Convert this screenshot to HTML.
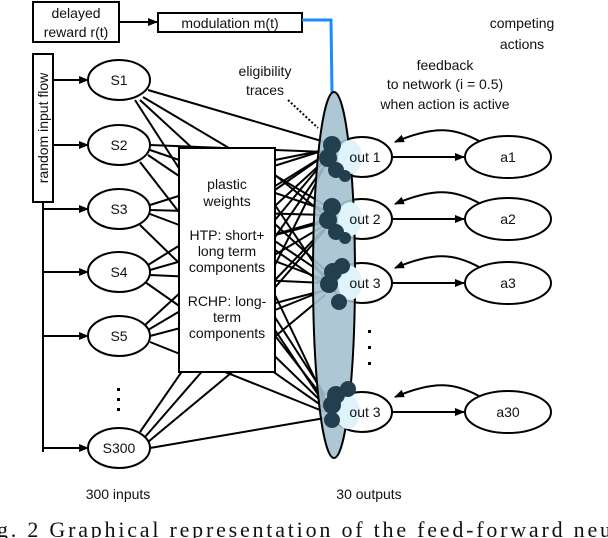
<!DOCTYPE html>
<html><head><style>body{margin:0;background:#fff}svg{display:block}text{font-family:"Liberation Sans",sans-serif;fill:#111}</style></head><body>
<svg width="608" height="538" viewBox="0 0 608 538" xmlns="http://www.w3.org/2000/svg">
<defs><marker id="ar" markerWidth="10" markerHeight="8" refX="9" refY="4" orient="auto" markerUnits="userSpaceOnUse"><path d="M0,0 L10,4 L0,8 z" fill="#000"/></marker></defs>
<g stroke="#000" stroke-width="2" fill="none">
<rect x="33" y="2" width="86" height="40" fill="#fff"/>
<rect x="158" y="13" width="144" height="19" fill="#fff"/>
<line x1="119" y1="22" x2="157" y2="22" marker-end="url(#ar)"/>
<rect x="33" y="54" width="20" height="148" fill="#fff"/>
<polyline points="43,202 43,452"/>
<line x1="53" y1="80" x2="88" y2="80" marker-end="url(#ar)"/>
<line x1="53" y1="145" x2="88" y2="145" marker-end="url(#ar)"/>
<line x1="43" y1="209" x2="88" y2="209" marker-end="url(#ar)"/>
<line x1="43" y1="272" x2="88" y2="272" marker-end="url(#ar)"/>
<line x1="43" y1="336" x2="88" y2="336" marker-end="url(#ar)"/>
<line x1="43" y1="448" x2="88" y2="448" marker-end="url(#ar)"/>
</g>
<polyline points="302,20 331,20 332,93" stroke="#1a8cff" stroke-width="3" fill="none"/>
<g stroke="#000" stroke-width="2">
<line x1="148" y1="90" x2="325" y2="142"/><line x1="143" y1="97" x2="325" y2="205"/><line x1="140" y1="100" x2="325" y2="270"/><line x1="135" y1="100" x2="325" y2="395"/>
<line x1="150" y1="145" x2="325" y2="152"/><line x1="150" y1="150" x2="325" y2="210"/><line x1="148" y1="155" x2="325" y2="275"/><line x1="140" y1="162" x2="325" y2="400"/>
<line x1="150" y1="205" x2="325" y2="150"/><line x1="150" y1="210" x2="325" y2="215"/><line x1="150" y1="214" x2="325" y2="280"/><line x1="140" y1="225" x2="325" y2="405"/>
<line x1="148" y1="265" x2="325" y2="155"/><line x1="150" y1="270" x2="325" y2="220"/><line x1="150" y1="275" x2="325" y2="283"/><line x1="145" y1="282" x2="325" y2="408"/>
<line x1="145" y1="325" x2="325" y2="160"/><line x1="148" y1="330" x2="325" y2="225"/><line x1="150" y1="336" x2="325" y2="290"/><line x1="150" y1="342" x2="325" y2="412"/>
<line x1="140" y1="432" x2="325" y2="165"/><line x1="145" y1="437" x2="325" y2="230"/><line x1="148" y1="442" x2="325" y2="295"/><line x1="150" y1="448" x2="325" y2="418"/>
</g>
<rect x="179" y="148" width="96" height="224" fill="#fff" stroke="#000" stroke-width="2"/>
<g stroke="#000" stroke-width="2">
<line x1="275" y1="160" x2="325" y2="150"/><line x1="275" y1="175" x2="325" y2="215"/><line x1="275" y1="190" x2="325" y2="155"/><line x1="275" y1="205" x2="325" y2="280"/>
<line x1="275" y1="220" x2="325" y2="160"/><line x1="275" y1="235" x2="325" y2="222"/><line x1="275" y1="250" x2="325" y2="285"/><line x1="275" y1="265" x2="325" y2="165"/>
<line x1="275" y1="280" x2="325" y2="228"/><line x1="275" y1="295" x2="325" y2="400"/><line x1="275" y1="310" x2="325" y2="290"/><line x1="275" y1="330" x2="325" y2="405"/>
</g>
<g fill="#fff" stroke="#000" stroke-width="2">
<ellipse cx="119" cy="80" rx="31" ry="20"/><ellipse cx="119" cy="145" rx="31" ry="20"/><ellipse cx="119" cy="209" rx="31" ry="20"/>
<ellipse cx="119" cy="272" rx="31" ry="20"/><ellipse cx="119" cy="336" rx="31" ry="20"/><ellipse cx="119" cy="448" rx="31" ry="20"/>
<ellipse cx="362" cy="157" rx="30" ry="20"/><ellipse cx="362" cy="219" rx="30" ry="20"/><ellipse cx="362" cy="283" rx="30" ry="20"/><ellipse cx="362" cy="412" rx="30" ry="20"/>
<ellipse cx="508" cy="157" rx="43" ry="21"/><ellipse cx="508" cy="219" rx="43" ry="21"/><ellipse cx="508" cy="283" rx="43" ry="21"/><ellipse cx="508" cy="412" rx="43" ry="21"/>
</g>
<ellipse cx="334" cy="275" rx="21" ry="183" fill="#a5c1cf" fill-opacity="0.9" stroke="#000" stroke-width="2"/>
<g fill="#dff3fb"><ellipse cx="350" cy="157" rx="12" ry="17"/><ellipse cx="350" cy="219" rx="12" ry="17"/><ellipse cx="350" cy="283" rx="12" ry="17"/><ellipse cx="348" cy="412" rx="12" ry="17"/></g>
<g fill="#233f4f">
<circle cx="332" cy="145" r="9"/><circle cx="328" cy="158" r="9"/><circle cx="336" cy="170" r="8"/><circle cx="345" cy="176" r="6"/>
<circle cx="332" cy="207" r="9"/><circle cx="328" cy="220" r="9"/><circle cx="336" cy="232" r="8"/><circle cx="345" cy="238" r="6"/>
<circle cx="342" cy="266" r="8"/><circle cx="333" cy="272" r="9"/><circle cx="329" cy="284" r="9"/><circle cx="339" cy="302" r="8"/>
<circle cx="348" cy="389" r="8"/><circle cx="336" cy="395" r="9"/><circle cx="332" cy="405" r="9"/><circle cx="332" cy="420" r="8"/>
</g>
<g stroke="#000" stroke-width="2" fill="none">
<line x1="392" y1="157" x2="464" y2="157" marker-end="url(#ar)"/><line x1="392" y1="219" x2="464" y2="219" marker-end="url(#ar)"/>
<line x1="392" y1="283" x2="464" y2="283" marker-end="url(#ar)"/><line x1="392" y1="412" x2="464" y2="412" marker-end="url(#ar)"/>
<path d="M479,141 C455,128 435,125 395,142" marker-end="url(#ar)"/><path d="M479,203 C455,190 435,187 395,204" marker-end="url(#ar)"/>
<path d="M479,267 C455,254 435,251 395,268" marker-end="url(#ar)"/><path d="M479,396 C455,383 435,380 395,397" marker-end="url(#ar)"/>
<line x1="288" y1="100" x2="318" y2="128" stroke-dasharray="2,2"/>
</g>
<g fill="#000"><rect x="117" y="388" width="3" height="3"/><rect x="117" y="398" width="3" height="3"/><rect x="117" y="408" width="3" height="3"/>
<rect x="368" y="330" width="3" height="3"/><rect x="368" y="346" width="3" height="3"/><rect x="368" y="362" width="3" height="3"/></g>
<g font-size="14" text-anchor="middle">
<text x="76" y="18">delayed</text><text x="76" y="37">reward r(t)</text>
<text x="230" y="28">modulation m(t)</text>
<text transform="translate(48,128) rotate(-90)">random input flow</text>
<text x="119" y="85">S1</text><text x="119" y="150">S2</text><text x="119" y="214">S3</text><text x="119" y="277">S4</text><text x="119" y="341">S5</text><text x="119" y="453">S300</text>
<text x="227" y="189">plastic</text><text x="227" y="206">weights</text><text x="227" y="240">HTP: short+</text><text x="227" y="256">long term</text><text x="227" y="272">components</text>
<text x="227" y="306">RCHP: long-</text><text x="227" y="322">term</text><text x="227" y="338">components</text>
<text x="365" y="162">out 1</text><text x="365" y="224">out 2</text><text x="365" y="288">out 3</text><text x="365" y="417">out 3</text>
<text x="508" y="162">a1</text><text x="508" y="224">a2</text><text x="508" y="288">a3</text><text x="508" y="417">a30</text>
<text x="265" y="76">eligibility</text><text x="265" y="95">traces</text>
<text x="522" y="28">competing</text><text x="522" y="49">actions</text>
<text x="445" y="70">feedback</text><text x="445" y="89">to network (i = 0.5)</text><text x="445" y="109">when action is active</text>
<text x="118" y="499">300 inputs</text><text x="369" y="499">30 outputs</text>
</g>
<text x="-3" y="537" font-size="22" textLength="614" lengthAdjust="spacing" style="font-family:'Liberation Serif',serif">g. 2  Graphical representation of the feed-forward neu</text>
</svg>
</body></html>
